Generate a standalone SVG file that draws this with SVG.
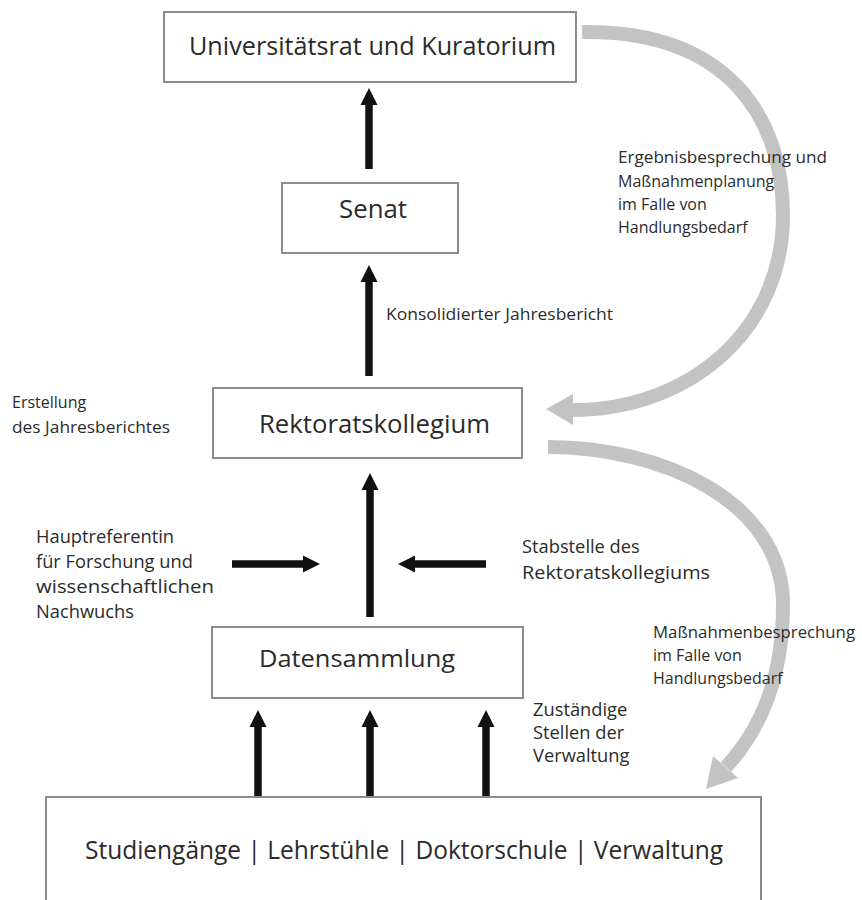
<svg xmlns="http://www.w3.org/2000/svg" width="862" height="900" viewBox="0 0 862 900">
<defs>
<style>
.box{fill:#fff;stroke:#8c8c8c;stroke-width:2}
.t{font-family:"Open Sans","Liberation Sans",sans-serif;fill:#2b2b2b}
.big{font-size:25px}
.mid{font-size:18.3px}
.sm{font-size:16px}
.arr{stroke:#111;stroke-width:7.5;fill:none}
.gray{stroke:#c3c3c3;stroke-width:14;fill:none}
.gh{fill:#c3c3c3}
</style>
<marker id="ah" markerUnits="userSpaceOnUse" markerWidth="20" markerHeight="20" viewBox="0 -10 20 20" refX="1" refY="0" orient="auto">
<path d="M0,-8.5 L17,0 L0,8.5 z" fill="#111"/>
</marker>
</defs>
<rect width="862" height="900" fill="#fff"/>

<g id="connectors">
<line class="arr" x1="369" y1="169" x2="369" y2="104" marker-end="url(#ah)"/>
<line class="arr" x1="369" y1="376" x2="369" y2="281" marker-end="url(#ah)"/>
<line class="arr" x1="370" y1="617" x2="370" y2="489" marker-end="url(#ah)"/>
<line class="arr" x1="232" y1="564" x2="304" y2="564" marker-end="url(#ah)"/>
<line class="arr" x1="486" y1="564" x2="414" y2="564" marker-end="url(#ah)"/>
<line class="arr" x1="258" y1="797" x2="258" y2="726" marker-end="url(#ah)"/>
<line class="arr" x1="370" y1="797" x2="370" y2="726" marker-end="url(#ah)"/>
<line class="arr" x1="486" y1="797" x2="486" y2="726" marker-end="url(#ah)"/>
<path class="gray" d="M582,32 C730,30 783,120 783,215 C783,330 690,410 572,410"/>
<polygon class="gh" points="546,409 573,394 573,425"/>
<path class="gray" d="M548,447 C660,447 783,500 783,605 C783,680 760,730 726,767"/>
<polygon class="gh" points="706,789 738,778 713,756"/>
</g>

<g id="n-univ">
<rect class="box" x="164" y="12" width="412" height="70"/>
<text class="t big" x="189" y="55" textLength="367" lengthAdjust="spacingAndGlyphs">Universitätsrat und Kuratorium</text>
</g>
<g id="n-senat">
<rect class="box" x="282" y="183" width="176" height="70"/>
<text class="t big" x="339" y="218" textLength="68" lengthAdjust="spacingAndGlyphs">Senat</text>
</g>
<g id="n-rektorat">
<rect class="box" x="213" y="388" width="309" height="70"/>
<text class="t big" x="259" y="433" font-size="24" textLength="231" lengthAdjust="spacingAndGlyphs">Rektoratskollegium</text>
</g>
<g id="n-daten">
<rect class="box" x="212" y="627" width="311" height="71"/>
<text class="t" x="259" y="667" font-size="23" textLength="196" lengthAdjust="spacingAndGlyphs">Datensammlung</text>
</g>
<g id="n-basis">
<rect class="box" x="46" y="797" width="715" height="115"/>
<text class="t big" x="85" y="859" textLength="638" lengthAdjust="spacingAndGlyphs">Studiengänge | Lehrstühle | Doktorschule | Verwaltung</text>
</g>

<g id="labels">
<text class="t sm" x="386" y="320" textLength="227" lengthAdjust="spacingAndGlyphs">Konsolidierter Jahresbericht</text>
<text class="t sm" x="12" y="408">Erstellung</text>
<text class="t sm" x="12" y="433" textLength="158" lengthAdjust="spacingAndGlyphs">des Jahresberichtes</text>
<text class="t sm" x="618" y="163" textLength="209" lengthAdjust="spacingAndGlyphs">Ergebnisbesprechung und</text>
<text class="t sm" x="618" y="187">Maßnahmenplanung</text>
<text class="t sm" x="618" y="210">im Falle von</text>
<text class="t sm" x="618" y="233">Handlungsbedarf</text>
<text class="t mid" x="36" y="543">Hauptreferentin</text>
<text class="t mid" x="36" y="568">für Forschung und</text>
<text class="t mid" x="36" y="593" textLength="178" lengthAdjust="spacingAndGlyphs">wissenschaftlichen</text>
<text class="t mid" x="36" y="618">Nachwuchs</text>
<text class="t mid" x="522" y="553">Stabstelle des</text>
<text class="t mid" x="522" y="579" textLength="188" lengthAdjust="spacingAndGlyphs">Rektoratskollegiums</text>
<text class="t sm" x="653" y="638" textLength="202" lengthAdjust="spacingAndGlyphs">Maßnahmenbesprechung</text>
<text class="t sm" x="653" y="661">im Falle von</text>
<text class="t sm" x="653" y="684">Handlungsbedarf</text>
<text class="t mid" x="533" y="716">Zuständige</text>
<text class="t mid" x="533" y="739">Stellen der</text>
<text class="t mid" x="533" y="762">Verwaltung</text>
</g>
</svg>
